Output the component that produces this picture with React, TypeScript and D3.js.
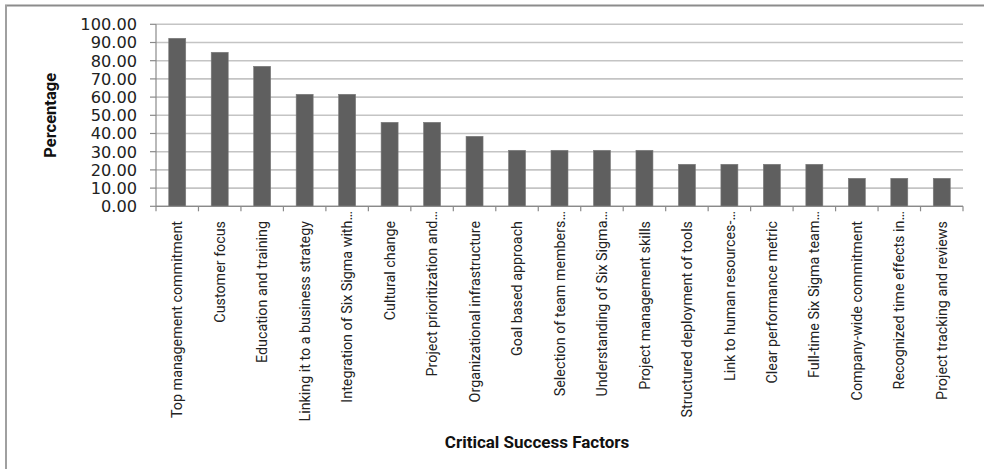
import React from "react";
import * as d3 from "d3";

const categories: string[] = [
  "Top management commitment",
  "Customer focus",
  "Education and training",
  "Linking it to a business strategy",
  "Integration of Six Sigma with…",
  "Cultural change",
  "Project prioritization and…",
  "Organizational infrastructure",
  "Goal based approach",
  "Selection of team members…",
  "Understanding of Six Sigma…",
  "Project management skills",
  "Structured deployment of tools",
  "Link to human resources-…",
  "Clear performance metric",
  "Full-time Six Sigma team…",
  "Company-wide commitment",
  "Recognized time effects in…",
  "Project tracking and reviews",
];

const values: number[] = [
  92.31, 84.62, 76.92, 61.54, 61.54, 46.15, 46.15, 38.46, 30.77, 30.77, 30.77,
  30.77, 23.08, 23.08, 23.08, 23.08, 15.38, 15.38, 15.38,
];

const yTicks: number[] = [0, 10, 20, 30, 40, 50, 60, 70, 80, 90, 100];

const yTitle = "Percentage";
const xTitle = "Critical Success Factors";

export default function App() {
  const W = 984;
  const H = 469;
  const left = 156;
  const right = 963;
  const top = 24.3;
  const bottom = 206.3;

  const x = d3
    .scaleBand<string>()
    .domain(categories)
    .range([left, right])
    .paddingInner(0)
    .paddingOuter(0);
  const y = d3.scaleLinear().domain([0, 100]).range([bottom, top]);
  const step = x.step();
  const barW = step * 0.4;
  const fmt = d3.format(".2f");
  const labelFont = "Roboto, 'Liberation Sans', sans-serif";

  return (
    <svg
      width={W}
      height={H}
      style={{ position: "absolute", left: 0, top: 0, background: "#fff" }}
    >
      {/* frame */}
      <line x1={5} y1={5.5} x2={W} y2={5.5} stroke="#8c8c8c" strokeWidth={2} />
      <line x1={6} y1={5} x2={6} y2={H} stroke="#a0a0a0" strokeWidth={2} />

      {/* gridlines */}
      {yTicks.map((t) => (
        <line
          key={"g" + t}
          x1={left}
          x2={right}
          y1={y(t)}
          y2={y(t)}
          stroke="#c4c4c4"
          strokeWidth={1.6}
        />
      ))}

      {/* bars */}
      {categories.map((c, i) => (
        <rect
          key={"b" + i}
          x={(x(c) as number) + (step - barW) / 2}
          y={y(values[i])}
          width={barW}
          height={y(0) - y(values[i])}
          fill="#5f5f5f"
          stroke="#7a7a7a"
          strokeWidth={0.6}
        />
      ))}

      {/* y axis */}
      <line x1={left} x2={left} y1={top} y2={bottom} stroke="#8a8a8a" strokeWidth={1.2} />
      {yTicks.map((t) => (
        <g key={"yt" + t}>
          <line x1={left - 6} x2={left} y1={y(t)} y2={y(t)} stroke="#8a8a8a" strokeWidth={1.2} />
          <text
            x={137}
            y={y(t)}
            dy="0.36em"
            textAnchor="end"
            fontFamily="'DejaVu Sans', Verdana, sans-serif"
            fontSize={16.2}
            fill="#222"
          >
            {fmt(t)}
          </text>
        </g>
      ))}

      {/* x axis */}
      <line x1={left} x2={right} y1={bottom} y2={bottom} stroke="#8a8a8a" strokeWidth={1.2} />
      {d3.range(categories.length + 1).map((i) => (
        <line
          key={"xt" + i}
          x1={left + i * step}
          x2={left + i * step}
          y1={bottom}
          y2={bottom + 5}
          stroke="#8a8a8a"
          strokeWidth={1.2}
        />
      ))}
      {categories.map((c, i) => {
        const cx = (x(c) as number) + step / 2;
        const truncated = c.endsWith("…");
        const yEnd = truncated ? 211 : 221;
        return (
          <text
            key={"xl" + i}
            transform={`translate(${cx},${yEnd}) rotate(-90)`}
            dy="0.36em"
            textAnchor="end"
            fontFamily={labelFont}
            fontSize={14.3}
            fill="#222"
          >
            {c}
          </text>
        );
      })}

      {/* titles */}
      <text
        transform={`translate(50,${(top + bottom) / 2}) rotate(-90)`}
        dy="0.35em"
        textAnchor="middle"
        fontFamily={labelFont}
        fontWeight="bold"
        fontSize={16.5}
        fill="#111"
      >
        {yTitle}
      </text>
      <text
        x={537}
        y={448}
        textAnchor="middle"
        fontFamily={labelFont}
        fontWeight="bold"
        fontSize={17}
        fill="#111"
      >
        {xTitle}
      </text>
    </svg>
  );
}
